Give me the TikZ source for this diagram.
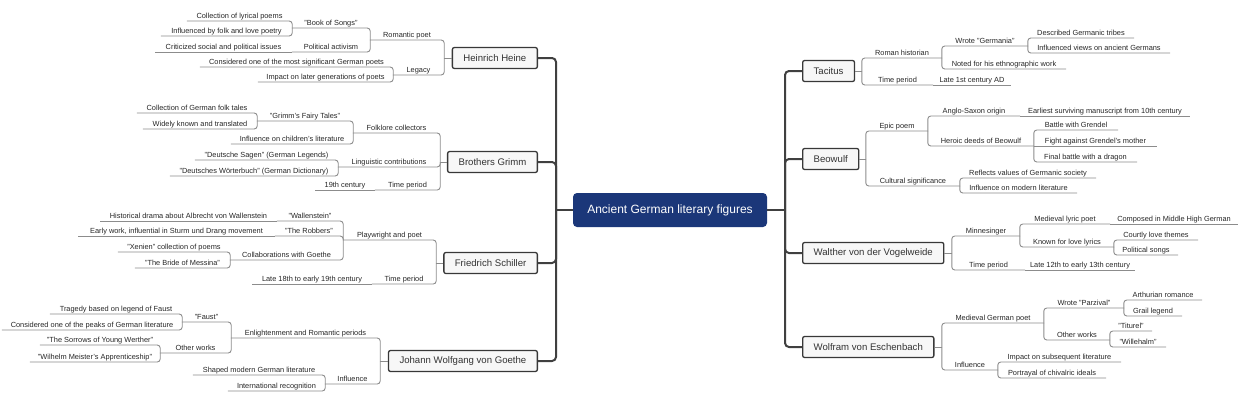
\documentclass[tikz,border=0pt]{standalone}
\usepackage{fontspec}
\setmainfont{Liberation Sans}
\usepackage{tikz}
\definecolor{rootblue}{RGB}{27,55,121}

\begin{document}
\begin{tikzpicture}[x=1pt,y=-1pt]

\tikzstyle{lbl}=[anchor=south,inner xsep=0pt,inner ysep=0.8pt,text height=5.4pt,text depth=1.6pt,font=\fontsize{7.4}{8}\selectfont,text=black!85]
\tikzstyle{topic}=[draw=black!78,line width=1.3pt,fill=black!3,rounded corners=2pt,inner xsep=11pt,minimum height=21pt,font=\fontsize{9.6}{11}\selectfont,text=black!80]
\tikzstyle{root}=[fill=rootblue,rounded corners=4pt,minimum width=194pt,minimum height=34pt,text=white,font=\fontsize{12}{14}\selectfont]
\tikzstyle{link}=[draw=black!45,line width=0.9pt]
\tikzstyle{trunk}=[draw=black!75,line width=2pt]

\useasboundingbox (0,0) rectangle (1240,400);

\node[root] (root) at (670,210) {Ancient German literary figures};

\node[topic,anchor=east] (heine) at (538,58) {Heinrich Heine};
\node[topic,anchor=east] (grimm) at (538,162) {Brothers Grimm};
\node[topic,anchor=east] (schiller) at (538,263) {Friedrich Schiller};
\node[topic,anchor=east] (goethe) at (538,361) {Johann Wolfgang von Goethe};
\node[topic,anchor=west] (tacitus) at (802,71) {Tacitus};
\node[topic,anchor=west] (beowulf) at (802,159) {Beowulf};
\node[topic,anchor=west] (walther) at (802,253) {Walther von der Vogelweide};
\node[topic,anchor=west] (wolfram) at (802,347) {Wolfram von Eschenbach};

% Heine
\node[lbl,minimum width=74] (rp) at (407,40) {Romantic poet};
\node[lbl,minimum width=78] (bs) at (331,28) {"Book of Songs"};
\node[lbl,minimum width=105] (clp) at (239.5,21) {Collection of lyrical poems};
\node[lbl,minimum width=131] (ifl) at (226.5,36) {Influenced by folk and love poetry};
\node[lbl,minimum width=78] (pa) at (331,52) {Political activism};
\node[lbl,minimum width=137] (csp) at (223.5,52) {Criticized social and political issues};
\node[lbl,minimum width=51] (lg) at (418.5,75) {Legacy};
\node[lbl,minimum width=193] (cms) at (296.5,67) {Considered one of the most significant German poets};
\node[lbl,minimum width=135] (ilg) at (325.5,82) {Impact on later generations of poets};

% Grimm
\node[lbl,minimum width=87] (fc) at (396.5,133) {Folklore collectors};
\node[lbl,minimum width=96] (gft) at (305,121) {"Grimm's Fairy Tales"};
\node[lbl,minimum width=120] (cgf) at (197,113) {Collection of German folk tales};
\node[lbl,minimum width=114] (wkt) at (200,129) {Widely known and translated};
\node[lbl,minimum width=122] (icl) at (292,144) {Influence on children's literature};
\node[lbl,minimum width=102] (lc) at (389,167) {Linguistic contributions};
\node[lbl,minimum width=143] (dsg) at (266.5,160) {"Deutsche Sagen" (German Legends)};
\node[lbl,minimum width=168] (dwb) at (254,176) {"Deutsches Wörterbuch" (German Dictionary)};
\node[lbl,minimum width=65] (tpg) at (407.5,190) {Time period};
\node[lbl,minimum width=60] (ntc) at (345,190) {19th century};

% Schiller
\node[lbl,minimum width=93] (pp) at (389.5,240) {Playwright and poet};
\node[lbl,minimum width=66] (wst) at (310,221) {"Wallenstein"};
\node[lbl,minimum width=177] (hda) at (188.5,221) {Historical drama about Albrecht von Wallenstein};
\node[lbl,minimum width=68] (rob) at (309,236) {"The Robbers"};
\node[lbl,minimum width=197] (ewk) at (176.5,236) {Early work, influential in Sturm und Drang movement};
\node[lbl,minimum width=113] (cwg) at (286.5,260) {Collaborations with Goethe};
\node[lbl,minimum width=112] (xen) at (174,252) {"Xenien" collection of poems};
\node[lbl,minimum width=95] (bom) at (182.5,268) {"The Bride of Messina"};
\node[lbl,minimum width=64] (tps) at (404,284) {Time period};
\node[lbl,minimum width=120] (l18) at (312,284) {Late 18th to early 19th century};

% Goethe
\node[lbl,minimum width=149] (erp) at (305.5,338) {Enlightenment and Romantic periods};
\node[lbl,minimum width=49] (fst) at (206.5,322) {"Faust"};
\node[lbl,minimum width=132] (tbl) at (116,314) {Tragedy based on legend of Faust};
\node[lbl,minimum width=180] (cpg) at (92,330) {Considered one of the peaks of German literature};
\node[lbl,minimum width=71] (owg) at (195.5,353) {Other works};
\node[lbl,minimum width=120] (syw) at (100,345) {"The Sorrows of Young Werther"};
\node[lbl,minimum width=130] (wma) at (95,362) {"Wilhelm Meister's Apprenticeship"};
\node[lbl,minimum width=55] (inf) at (352.5,384) {Influence};
\node[lbl,minimum width=132] (smg) at (259,375) {Shaped modern German literature};
\node[lbl,minimum width=97] (irc) at (276.5,391) {International recognition};

% Tacitus
\node[lbl,minimum width=80] (rh) at (902,58) {Roman historian};
\node[lbl,minimum width=86] (wg) at (985,46) {Wrote "Germania"};
\node[lbl,minimum width=106] (dgt) at (1081,38) {Described Germanic tribes};
\node[lbl,minimum width=142] (ivg) at (1099,53) {Influenced views on ancient Germans};
\node[lbl,minimum width=124] (nfe) at (1004,69) {Noted for his ethnographic work};
\node[lbl,minimum width=71] (tpt) at (897.5,85) {Time period};
\node[lbl,minimum width=78] (l1c) at (972,85) {Late 1st century AD};

% Beowulf
\node[lbl,minimum width=62] (ep) at (897,131) {Epic poem};
\node[lbl,minimum width=92] (aso) at (974,116) {Anglo-Saxon origin};
\node[lbl,minimum width=170] (esm) at (1105,116) {Earliest surviving manuscript from 10th century};
\node[lbl,minimum width=106] (hdb) at (981,146) {Heroic deeds of Beowulf};
\node[lbl,minimum width=84] (bwg) at (1076,130) {Battle with Grendel};
\node[lbl,minimum width=123] (fgm) at (1095.5,146) {Fight against Grendel's mother};
\node[lbl,minimum width=103] (fbd) at (1085.5,162) {Final battle with a dragon};
\node[lbl,minimum width=94] (cs) at (913,186) {Cultural significance};
\node[lbl,minimum width=136] (rvg) at (1028,178) {Reflects values of Germanic society};
\node[lbl,minimum width=117] (iml) at (1018.5,193) {Influence on modern literature};

% Walther
\node[lbl,minimum width=68] (mns) at (986,236) {Minnesinger};
\node[lbl,minimum width=90] (mlp) at (1065,224) {Medieval lyric poet};
\node[lbl,minimum width=128] (cmh) at (1174,224) {Composed in Middle High German};
\node[lbl,minimum width=94] (kll) at (1067,247) {Known for love lyrics};
\node[lbl,minimum width=84] (clt) at (1156,240) {Courtly love themes};
\node[lbl,minimum width=64] (pls) at (1146,255) {Political songs};
\node[lbl,minimum width=73] (tpw) at (988.5,270) {Time period};
\node[lbl,minimum width=110] (l12) at (1080,270) {Late 12th to early 13th century};

% Wolfram
\node[lbl,minimum width=102] (mgp) at (993,323) {Medieval German poet};
\node[lbl,minimum width=80] (wpz) at (1084,308) {Wrote "Parzival"};
\node[lbl,minimum width=78] (arr) at (1163,300) {Arthurian romance};
\node[lbl,minimum width=58] (grl) at (1153,316) {Grail legend};
\node[lbl,minimum width=66] (oww) at (1077,340) {Other works};
\node[lbl,minimum width=42] (tit) at (1131,331) {"Titurel"};
\node[lbl,minimum width=56] (wlh) at (1138,347) {"Willehalm"};
\node[lbl,minimum width=56] (ifw) at (970,370) {Influence};
\node[lbl,minimum width=123] (isl) at (1059.5,362) {Impact on subsequent literature};
\node[lbl,minimum width=108] (pci) at (1052,378) {Portrayal of chivalric ideals};

% trunks
\coordinate (lt) at (556,210);
\coordinate (rt) at (785,210);
\draw[trunk] (root.west) -- (lt);
\draw[trunk] (root.east) -- (rt);
\foreach \t in {heine,grimm,schiller,goethe}
  \draw[trunk,rounded corners=4pt] (lt) |- (\t.east);
\foreach \t in {tacitus,beowulf,walther,wolfram}
  \draw[trunk,rounded corners=4pt] (rt) |- (\t.west);

% left branches
\draw[link] (heine.west) -- (rp.south east |- heine.west);
\foreach \c in {rp,lg} \draw[link,rounded corners=3pt] (\c.south east |- heine.west) |- (\c.south west);
\foreach \c in {bs,pa} \draw[link,rounded corners=3pt] (\c.south east |- rp.south west) |- (\c.south west);
\foreach \c in {clp,ifl} \draw[link,rounded corners=3pt] (\c.south east |- bs.south west) |- (\c.south west);
\draw[link] (pa.south west) -- (csp.south west);
\foreach \c in {cms,ilg} \draw[link,rounded corners=3pt] (\c.south east |- lg.south west) |- (\c.south west);

\draw[link] (grimm.west) -- (fc.south east |- grimm.west);
\foreach \c in {fc,lc,tpg} \draw[link,rounded corners=3pt] (\c.south east |- grimm.west) |- (\c.south west);
\foreach \c in {gft,icl} \draw[link,rounded corners=3pt] (\c.south east |- fc.south west) |- (\c.south west);
\foreach \c in {cgf,wkt} \draw[link,rounded corners=3pt] (\c.south east |- gft.south west) |- (\c.south west);
\foreach \c in {dsg,dwb} \draw[link,rounded corners=3pt] (\c.south east |- lc.south west) |- (\c.south west);
\draw[link] (tpg.south west) -- (ntc.south west);

\draw[link] (schiller.west) -- (pp.south east |- schiller.west);
\foreach \c in {pp,tps} \draw[link,rounded corners=3pt] (\c.south east |- schiller.west) |- (\c.south west);
\foreach \c in {wst,rob,cwg} \draw[link,rounded corners=3pt] (\c.south east |- pp.south west) |- (\c.south west);
\draw[link] (wst.south west) -- (hda.south west);
\draw[link] (rob.south west) -- (ewk.south west);
\foreach \c in {xen,bom} \draw[link,rounded corners=3pt] (\c.south east |- cwg.south west) |- (\c.south west);
\draw[link] (tps.south west) -- (l18.south west);

\draw[link] (goethe.west) -- (erp.south east |- goethe.west);
\foreach \c in {erp,inf} \draw[link,rounded corners=3pt] (\c.south east |- goethe.west) |- (\c.south west);
\foreach \c in {fst,owg} \draw[link,rounded corners=3pt] (\c.south east |- erp.south west) |- (\c.south west);
\foreach \c in {tbl,cpg} \draw[link,rounded corners=3pt] (\c.south east |- fst.south west) |- (\c.south west);
\foreach \c in {syw,wma} \draw[link,rounded corners=3pt] (\c.south east |- owg.south west) |- (\c.south west);
\foreach \c in {smg,irc} \draw[link,rounded corners=3pt] (\c.south east |- inf.south west) |- (\c.south west);

% right branches
\draw[link] (tacitus.east) -- (rh.south west |- tacitus.east);
\foreach \c in {rh,tpt} \draw[link,rounded corners=3pt] (\c.south west |- tacitus.east) |- (\c.south east);
\foreach \c in {wg,nfe} \draw[link,rounded corners=3pt] (\c.south west |- rh.south east) |- (\c.south east);
\foreach \c in {dgt,ivg} \draw[link,rounded corners=3pt] (\c.south west |- wg.south east) |- (\c.south east);
\draw[link] (tpt.south east) -- (l1c.south east);

\draw[link] (beowulf.east) -- (ep.south west |- beowulf.east);
\foreach \c in {ep,cs} \draw[link,rounded corners=3pt] (\c.south west |- beowulf.east) |- (\c.south east);
\foreach \c in {aso,hdb} \draw[link,rounded corners=3pt] (\c.south west |- ep.south east) |- (\c.south east);
\draw[link] (aso.south east) -- (esm.south east);
\foreach \c in {bwg,fbd} \draw[link,rounded corners=3pt] (\c.south west |- hdb.south east) |- (\c.south east);
\draw[link] (hdb.south east) -- (fgm.south east);
\foreach \c in {rvg,iml} \draw[link,rounded corners=3pt] (\c.south west |- cs.south east) |- (\c.south east);

\draw[link] (walther.east) -- (mns.south west |- walther.east);
\foreach \c in {mns,tpw} \draw[link,rounded corners=3pt] (\c.south west |- walther.east) |- (\c.south east);
\foreach \c in {mlp,kll} \draw[link,rounded corners=3pt] (\c.south west |- mns.south east) |- (\c.south east);
\draw[link] (mlp.south east) -- (cmh.south east);
\foreach \c in {clt,pls} \draw[link,rounded corners=3pt] (\c.south west |- kll.south east) |- (\c.south east);
\draw[link] (tpw.south east) -- (l12.south east);

\draw[link] (wolfram.east) -- (mgp.south west |- wolfram.east);
\foreach \c in {mgp,ifw} \draw[link,rounded corners=3pt] (\c.south west |- wolfram.east) |- (\c.south east);
\foreach \c in {wpz,oww} \draw[link,rounded corners=3pt] (\c.south west |- mgp.south east) |- (\c.south east);
\foreach \c in {arr,grl} \draw[link,rounded corners=3pt] (\c.south west |- wpz.south east) |- (\c.south east);
\foreach \c in {tit,wlh} \draw[link,rounded corners=3pt] (\c.south west |- oww.south east) |- (\c.south east);
\foreach \c in {isl,pci} \draw[link,rounded corners=3pt] (\c.south west |- ifw.south east) |- (\c.south east);

\end{tikzpicture}
\end{document}
